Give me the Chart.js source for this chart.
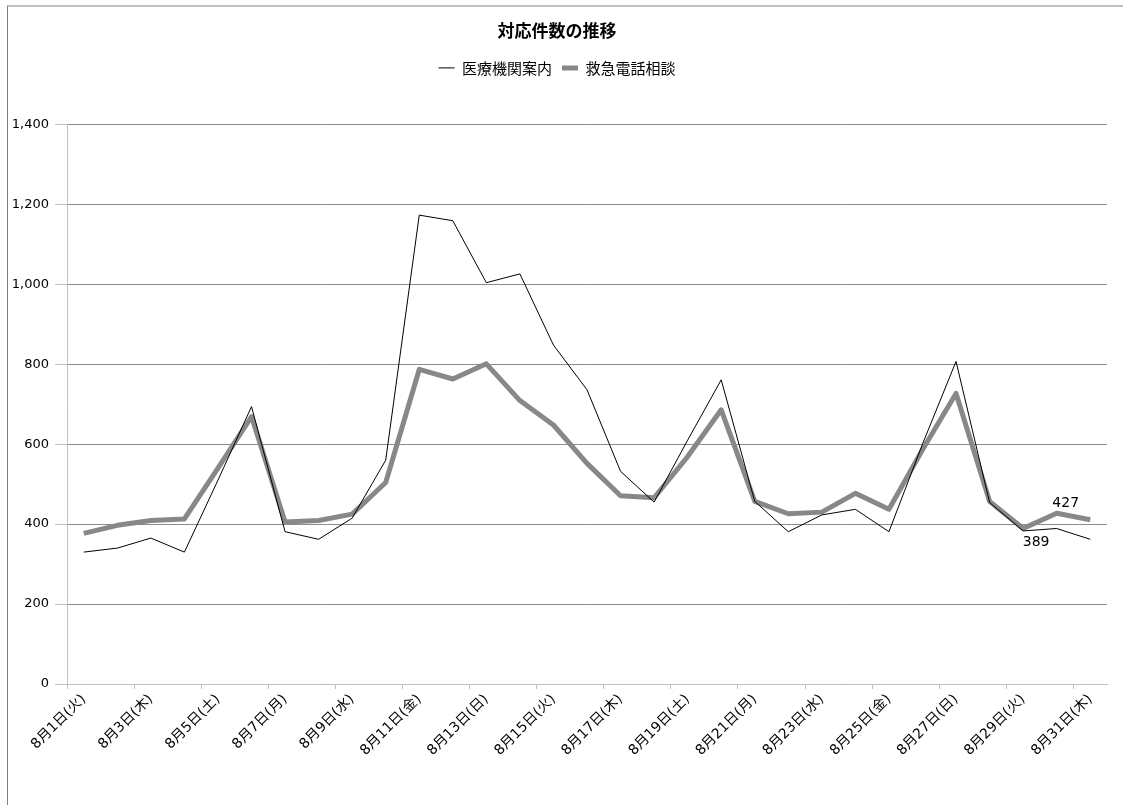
<!DOCTYPE html>
<html>
<head>
<meta charset="utf-8">
<script src="https://cdn.jsdelivr.net/npm/chart.js@4"></script>
<style>
  body { margin: 0; background: #fff; }
  #frame { position: absolute; left: 7px; top: 5px; width: 1116px; height: 800px;
           border-top: 2px solid #c0c0c0; border-left: 1px solid #808080; }
  #chart { position: absolute; left: 0; top: 0; }
</style>
</head>
<body>
<div id="frame"></div>
<canvas id="chart" width="1123" height="805"></canvas>
<script>
var labels = ['8月1日(火)', '8月2日(水)', '8月3日(木)', '8月4日(金)', '8月5日(土)', '8月6日(日)', '8月7日(月)',
  '8月8日(火)', '8月9日(水)', '8月10日(木)', '8月11日(金)', '8月12日(土)', '8月13日(日)', '8月14日(月)',
  '8月15日(火)', '8月16日(水)', '8月17日(木)', '8月18日(金)', '8月19日(土)', '8月20日(日)', '8月21日(月)',
  '8月22日(火)', '8月23日(水)', '8月24日(木)', '8月25日(金)', '8月26日(土)', '8月27日(日)', '8月28日(月)',
  '8月29日(火)', '8月30日(水)', '8月31日(木)'];

var iryou = [330, 340, 365, 330, 510, 694, 381, 362, 415, 560, 1173, 1159, 1004, 1026, 848, 736,
  532, 455, 610, 761, 457, 381, 423, 437, 381, 600, 807, 454, 383, 389, 362];

var kyukyu = [377, 397, 409, 413, 540, 669, 405, 409, 425, 504, 787, 763, 801, 709, 648, 552,
  471, 466, 569, 686, 457, 426, 430, 477, 437, 586, 727, 457, 389, 427, 411];

var yTicks = { min: 0, max: 1400, step: 200 };

// labels shown on the second series: [index, dx, dy]
var shownLabels = [[28, 13, 14], [29, 9, -10]];

var font = "'DejaVu Sans', 'Noto Sans CJK JP', sans-serif";
var jpFont = "'Noto Sans CJK JP', sans-serif";

var valueLabels = {
  id: 'valueLabels',
  afterDatasetsDraw: function (chart) {
    var ctx = chart.ctx;
    var x = chart.scales.x, y = chart.scales.y;
    ctx.save();
    ctx.fillStyle = '#000';
    ctx.font = '14px ' + font;
    ctx.textAlign = 'center';
    ctx.textBaseline = 'middle';
    shownLabels.forEach(function (l) {
      var i = l[0];
      ctx.fillText(kyukyu[i], x.getPixelForValue(i) + l[1], y.getPixelForValue(kyukyu[i]) + l[2]);
    });
    ctx.restore();
  }
};

var config = {
  type: 'line',
  data: {
    labels: labels,
    datasets: [{
      label: '医療機関案内',
      data: iryou,
      borderColor: '#000',
      backgroundColor: '#000',
      borderWidth: 1,
      pointRadius: 0,
      pointStyle: 'line',
      tension: 0
    }, {
      label: '救急電話相談',
      data: kyukyu,
      borderColor: '#888',
      backgroundColor: '#888',
      borderWidth: 5,
      pointRadius: 0,
      pointStyle: 'line',
      borderJoinStyle: 'round',
      tension: 0
    }]
  },
  options: {
    responsive: false,
    animation: false,
    locale: 'en-US',
    layout: { padding: { top: 14, left: 7, right: 16, bottom: 0 } },
    plugins: {
      title: {
        display: true,
        text: '対応件数の推移',
        color: '#000',
        font: { family: jpFont, size: 17, weight: 'bold' },
        padding: { top: 6, bottom: 10 }
      },
      subtitle: {
        display: true,
        text: ' ',
        weight: 500,
        font: { size: 10 },
        padding: { top: 13, bottom: 14 }
      },
      legend: {
        position: 'top',
        labels: {
          usePointStyle: true,
          pointStyleWidth: 16,
          boxHeight: 13,
          padding: 10,
          color: '#000',
          font: { family: jpFont, size: 15 }
        }
      },
      tooltip: { enabled: false }
    },
    scales: {
      x: {
        offset: true,
        afterFit: function (s) { s.height = 121; },
        grid: {
          offset: true,
          drawOnChartArea: false,
          tickLength: 5,
          tickColor: function (c) { return c.index % 2 === 0 ? '#bfbfbf' : 'rgba(0,0,0,0)'; }
        },
        border: { color: '#bfbfbf' },
        ticks: {
          autoSkip: false,
          minRotation: 45,
          maxRotation: 45,
          padding: 2,
          color: '#000',
          font: { family: font, size: 14 },
          callback: function (v, i) { return i % 2 === 0 ? labels[i] : ''; }
        }
      },
      y: {
        min: yTicks.min,
        max: yTicks.max,
        afterFit: function (s) { s.width = 60; },
        grid: { color: '#8c8c8c', tickColor: '#bfbfbf', tickLength: 12 },
        border: { color: '#bfbfbf' },
        ticks: {
          stepSize: yTicks.step,
          padding: 6,
          color: '#000',
          font: { family: font, size: 13 }
        }
      }
    }
  },
  plugins: [valueLabels]
};

var lineChart = new Chart(document.getElementById('chart'), config);
</script>
</body>
</html>
